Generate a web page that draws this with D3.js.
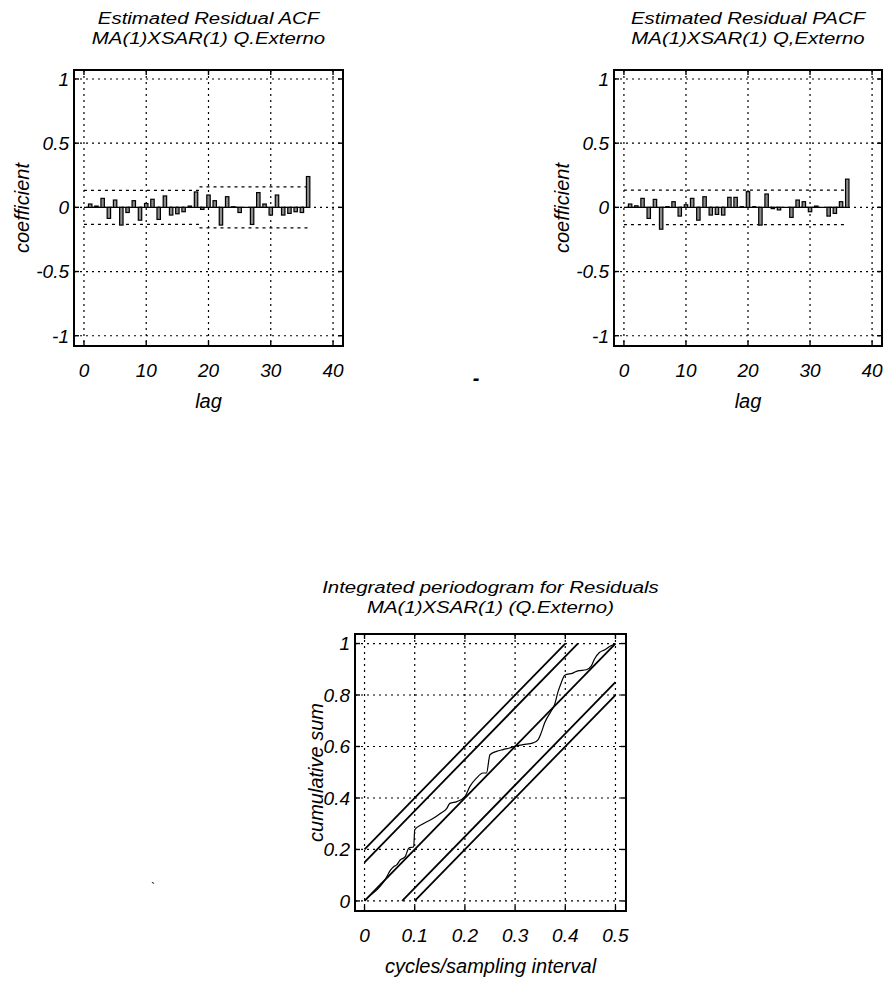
<!DOCTYPE html>
<html>
<head>
<meta charset="utf-8">
<script src="https://cdn.jsdelivr.net/npm/d3@7"></script>
<style>
  html, body { margin: 0; padding: 0; background: #fff; }
  svg text { font-family: "Liberation Sans", Arial, Helvetica, sans-serif; font-style: italic; fill: #000; }
</style>
</head>
<body>
<svg id="fig" width="883" height="981"></svg>
<script>
// ---- residual diagnostics: MA(1)XSAR(1) model, Q.Externo series ----
const lags = [1, 2, 3, 4, 5, 6, 7, 8, 9, 10, 11, 12, 13, 14, 15, 16, 17, 18,
              19, 20, 21, 22, 23, 24, 25, 26, 27, 28, 29, 30, 31, 32, 33, 34, 35, 36];

const acfValues = [0.026, 0.010, 0.070, -0.086, 0.057, -0.138, -0.040, 0.052, -0.100, 0.030,
                   0.063, -0.094, 0.089, -0.060, -0.050, -0.034, 0.010, 0.120, -0.016, 0.096,
                   0.052, -0.138, 0.083, 0.005, -0.040, 0.000, -0.133, 0.115, 0.026, -0.060,
                   0.096, -0.060, -0.047, -0.034, -0.040, 0.240];

// approximate 95% limits for the ACF (widen after lag 18)
const acfBand = [0.133, 0.133, 0.133, 0.133, 0.133, 0.133, 0.133, 0.133, 0.133, 0.133,
                 0.133, 0.133, 0.133, 0.133, 0.133, 0.133, 0.133, 0.133, 0.160, 0.160,
                 0.160, 0.160, 0.160, 0.160, 0.160, 0.160, 0.160, 0.160, 0.160, 0.160,
                 0.160, 0.160, 0.160, 0.160, 0.160, 0.160];

const pacfValues = [0.026, 0.012, 0.070, -0.086, 0.062, -0.170, 0.005, 0.044, -0.068, 0.020,
                    0.070, -0.100, 0.083, -0.060, -0.055, -0.060, 0.078, 0.078, 0.005, 0.122,
                    0.005, -0.138, 0.104, -0.010, -0.020, 0.000, -0.078, 0.057, 0.044, -0.034,
                    0.010, 0.000, -0.068, -0.047, 0.044, 0.220];

const pacfBand = [0.134, 0.134, 0.134, 0.134, 0.134, 0.134, 0.134, 0.134, 0.134, 0.134,
                  0.134, 0.134, 0.134, 0.134, 0.134, 0.134, 0.134, 0.134, 0.134, 0.134,
                  0.134, 0.134, 0.134, 0.134, 0.134, 0.134, 0.134, 0.134, 0.134, 0.134,
                  0.134, 0.134, 0.134, 0.134, 0.134, 0.134];

const lagTicks = [0, 10, 20, 30, 40];
const coefTicks = [-1, -0.5, 0, 0.5, 1];

// cumulative periodogram of the residuals
const periodFreq = [0, 0.008, 0.025, 0.038, 0.046, 0.051, 0.058, 0.064, 0.071, 0.081,
                    0.088, 0.098, 0.100, 0.117, 0.137, 0.151, 0.164, 0.170, 0.184, 0.200,
                    0.210, 0.223, 0.236, 0.243, 0.250, 0.263, 0.276, 0.289, 0.300, 0.316,
                    0.336, 0.346, 0.352, 0.359, 0.372, 0.379, 0.385, 0.392, 0.399, 0.415,
                    0.425, 0.442, 0.452, 0.458, 0.468, 0.478, 0.490, 0.500];
const periodCum = [0, 0.016, 0.044, 0.074, 0.100, 0.118, 0.133, 0.140, 0.159, 0.172,
                   0.205, 0.211, 0.276, 0.300, 0.321, 0.340, 0.360, 0.379, 0.386, 0.405,
                   0.445, 0.477, 0.497, 0.497, 0.568, 0.581, 0.588, 0.594, 0.601, 0.607,
                   0.614, 0.627, 0.653, 0.692, 0.738, 0.764, 0.809, 0.848, 0.877, 0.885,
                   0.894, 0.898, 0.913, 0.939, 0.965, 0.975, 0.990, 1.000];
// Kolmogorov-Smirnov style limits around the white-noise diagonal
const ksOffsets = [0.15, 0.20];

const freqTicks = [0, 0.1, 0.2, 0.3, 0.4, 0.5];
const cumTicks = [0, 0.2, 0.4, 0.6, 0.8, 1];

// ---- drawing ----
const svg = d3.select("#fig");
svg.append("rect").attr("width", 883).attr("height", 981).attr("fill", "#fff");

function axesBox(box, xDomain, yDomain, xTicks, yTicks) {
  const g = svg.append("g");
  const x = d3.scaleLinear().domain(xDomain).range([box.left, box.right]);
  const y = d3.scaleLinear().domain(yDomain).range([box.bottom, box.top]);

  // dotted grid
  const grid = g.append("g").attr("stroke", "#000").attr("stroke-width", 1.2)
    .attr("stroke-dasharray", "2,4").attr("fill", "none");
  grid.selectAll("line.v").data(xTicks).join("line")
    .attr("x1", d => x(d)).attr("x2", d => x(d))
    .attr("y1", box.top).attr("y2", box.bottom);
  grid.selectAll("line.h").data(yTicks).join("line")
    .attr("y1", d => y(d)).attr("y2", d => y(d))
    .attr("x1", box.left).attr("x2", box.right);

  const content = g.append("g");

  // frame and inward ticks
  const frame = g.append("g").attr("stroke", "#000").attr("fill", "none");
  frame.append("rect")
    .attr("x", box.left).attr("y", box.top)
    .attr("width", box.right - box.left).attr("height", box.bottom - box.top)
    .attr("stroke-width", 2);
  const tl = 5;
  frame.selectAll("line.xt").data(xTicks).join("line")
    .attr("x1", d => x(d)).attr("x2", d => x(d))
    .attr("y1", box.bottom).attr("y2", box.bottom - tl).attr("stroke-width", 1.4);
  frame.selectAll("line.xt2").data(xTicks).join("line")
    .attr("x1", d => x(d)).attr("x2", d => x(d))
    .attr("y1", box.top).attr("y2", box.top + tl).attr("stroke-width", 1.4);
  frame.selectAll("line.yt").data(yTicks).join("line")
    .attr("y1", d => y(d)).attr("y2", d => y(d))
    .attr("x1", box.left).attr("x2", box.left + tl).attr("stroke-width", 1.4);
  frame.selectAll("line.yt2").data(yTicks).join("line")
    .attr("y1", d => y(d)).attr("y2", d => y(d))
    .attr("x1", box.right).attr("x2", box.right - tl).attr("stroke-width", 1.4);

  // tick labels
  g.selectAll("text.xl").data(xTicks).join("text")
    .attr("x", d => x(d)).attr("y", box.bottom + 31)
    .attr("text-anchor", "middle").attr("font-size", 19)
    .text(d => String(d));
  g.selectAll("text.yl").data(yTicks).join("text")
    .attr("x", box.left - 5).attr("y", d => y(d)).attr("dy", "0.36em")
    .attr("text-anchor", "end").attr("font-size", 19)
    .text(d => String(d));

  return { g, content, x, y };
}

// two-line heading, set in a slightly widened italic face
function title(cx, lines, y0) {
  lines.forEach((t, i) => {
    svg.append("text")
      .attr("transform", `translate(${cx},${y0 + i * 20}) scale(1.2,1)`)
      .attr("text-anchor", "middle").attr("font-size", 17).text(t);
  });
}

function xLabel(cx, y, t) {
  svg.append("text").attr("x", cx).attr("y", y).attr("text-anchor", "middle")
    .attr("font-size", 20).text(t);
}
function yLabel(x, cy, t) {
  svg.append("text").attr("transform", `translate(${x},${cy}) rotate(-90)`)
    .attr("text-anchor", "middle").attr("font-size", 20).text(t);
}

function correlogram(box, values, band, heading) {
  const ax = axesBox(box, [-1.6, 41.6], [-1.08, 1.07], lagTicks, coefTicks);
  const { content, x, y } = ax;
  const rows = lags.map((l, i) => ({ lag: l, v: values[i], b: band[i] }));
  const bandRows = [{ lag: 0, b: band[0] }].concat(rows);

  // confidence limits (dashed)
  const up = d3.line().x(d => x(d.lag)).y(d => y(d.b)).curve(d3.curveStep);
  const lo = d3.line().x(d => x(d.lag)).y(d => y(-d.b)).curve(d3.curveStep);
  content.append("path").attr("d", up(bandRows)).attr("fill", "none")
    .attr("stroke", "#000").attr("stroke-width", 1.3).attr("stroke-dasharray", "3,4");
  content.append("path").attr("d", lo(bandRows)).attr("fill", "none")
    .attr("stroke", "#000").attr("stroke-width", 1.3).attr("stroke-dasharray", "3,4");

  // zero line
  content.append("line").attr("x1", x(0)).attr("x2", x(lags[lags.length - 1]))
    .attr("y1", y(0)).attr("y2", y(0)).attr("stroke", "#000").attr("stroke-width", 1.4);

  // bars
  const bw = x(0.55) - x(0);
  content.selectAll("rect.bar").data(rows).join("rect")
    .attr("x", d => x(d.lag) - bw / 2)
    .attr("width", bw)
    .attr("y", d => y(Math.max(0, d.v)))
    .attr("height", d => Math.abs(y(d.v) - y(0)))
    .attr("fill", "#8c8c8c").attr("stroke", "#000").attr("stroke-width", 1.2);

  const cx = (box.left + box.right) / 2;
  title(cx, heading, 24);
  xLabel(cx, 408, "lag");
  yLabel(box.left - 45, (box.top + box.bottom) / 2, "coefficient");
}

correlogram({ left: 74, right: 343, top: 70, bottom: 346 }, acfValues, acfBand,
  ["Estimated Residual ACF", "MA(1)XSAR(1) Q.Externo"]);
correlogram({ left: 614, right: 882, top: 70, bottom: 346 }, pacfValues, pacfBand,
  ["Estimated Residual PACF", "MA(1)XSAR(1) Q,Externo"]);

// integrated periodogram
(function () {
  const box = { left: 355, right: 626, top: 634, bottom: 911 };
  const ax = axesBox(box, [-0.019, 0.521], [-0.039, 1.037], freqTicks, cumTicks);
  const { content, x, y } = ax;
  const seg = (x1, y1, x2, y2) =>
    content.append("line").attr("x1", x(x1)).attr("y1", y(y1)).attr("x2", x(x2)).attr("y2", y(y2))
      .attr("stroke", "#000").attr("stroke-width", 1.8);

  // white-noise diagonal and its limits, kept inside [0,0.5] x [0,1]
  seg(0, 0, 0.5, 1);
  ksOffsets.forEach(c => {
    seg(0, c, (1 - c) / 2, 1);
    seg(c / 2, 0, 0.5, 1 - c);
  });

  const pts = periodFreq.map((f, i) => [f, periodCum[i]]);
  content.append("path")
    .attr("d", d3.line().x(d => x(d[0])).y(d => y(d[1])).curve(d3.curveMonotoneX)(pts))
    .attr("fill", "none").attr("stroke", "#000").attr("stroke-width", 1.2);

  const cx = (box.left + box.right) / 2;
  title(cx, ["Integrated periodogram for Residuals", "MA(1)XSAR(1) (Q.Externo)"], 593);
  xLabel(cx, 973, "cycles/sampling interval");
  yLabel(323, (box.top + box.bottom) / 2, "cumulative sum");
})();

// stray marks on the page
svg.append("text").attr("x", 476).attr("y", 385).attr("text-anchor", "middle")
  .attr("font-size", 20).attr("font-weight", "bold").attr("font-style", "normal").text("-");
svg.append("text").attr("x", 153).attr("y", 892).attr("text-anchor", "middle")
  .attr("font-size", 12).text("`");
</script>
</body>
</html>
